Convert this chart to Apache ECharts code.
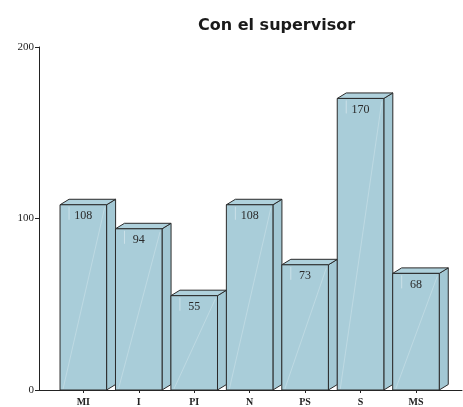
<!DOCTYPE html>
<html lang="es">
<head>
    <meta charset="utf-8">
    <title>Con el supervisor</title>
    <script src="https://cdn.jsdelivr.net/npm/echarts@6/dist/echarts.min.js"></script>
    <style>
        html, body { margin: 0; padding: 0; background: #fff; }
    </style>
</head>
<body>
<div id="main" style="width: 463px;height:407px;"></div>
<script type="text/javascript">
    var categories = ['MI', 'I', 'PI', 'N', 'PS', 'S', 'MS'];
    var values = [108, 94, 55, 108, 73, 170, 68];
    var yTicks = [0, 100, 200];

    var myChart = echarts.init(document.getElementById('main'));

    var serif = '"Liberation Serif", "DejaVu Serif", serif';
    var depthX = 9, depthY = 5.5;

    // front face + side + top, like an old 3D bar
    function renderBar(params, api) {
        var cat = api.value(0);
        var val = api.value(1);
        var top = api.coord([cat, val]);
        var base = api.coord([cat, 0]);
        var w = api.size([1, 0])[0] * 0.84;
        var x0 = top[0] - w / 2, x1 = top[0] + w / 2;
        var yt = top[1], yb = base[1];
        var edge = '#2a2a2a';
        return {
            type: 'group',
            children: [
                {
                    type: 'polygon',
                    shape: { points: [[x1, yt], [x1 + depthX, yt - depthY], [x1 + depthX, yb - depthY], [x1, yb]] },
                    style: { fill: '#a3c8d4', stroke: edge, lineWidth: 1 }
                },
                {
                    type: 'polygon',
                    shape: { points: [[x0, yt], [x0 + depthX, yt - depthY], [x1 + depthX, yt - depthY], [x1, yt]] },
                    style: { fill: '#afd1dc', stroke: edge, lineWidth: 1 }
                },
                {
                    type: 'rect',
                    shape: { x: x0, y: yt, width: w, height: yb - yt },
                    style: { fill: '#a9cdd9', stroke: edge, lineWidth: 1 }
                },
                {
                    type: 'line',
                    shape: { x1: x0 + 3, y1: yb - 1, x2: x1 - 2, y2: yt + 3 },
                    style: { stroke: 'rgba(255,255,255,0.3)', lineWidth: 0.8 }
                },
                {
                    type: 'line',
                    shape: { x1: x0 + 9, y1: yt + 2, x2: x0 + 9, y2: yt + 15 },
                    style: { stroke: 'rgba(255,255,255,0.5)', lineWidth: 0.8 }
                },
                {
                    type: 'text',
                    style: {
                        text: String(val),
                        x: top[0],
                        y: yt + 11,
                        align: 'center',
                        verticalAlign: 'middle',
                        fill: '#2a2a2a',
                        font: '12px ' + serif
                    }
                }
            ]
        };
    }

    var barData = values.map(function (v, i) { return [i, v]; });

    option = {
        animation: false,
        title: {
            text: 'Con el supervisor',
            left: 193,
            top: 13,
            textStyle: {
                fontFamily: '"DejaVu Sans", sans-serif',
                fontWeight: 'bold',
                fontSize: 16,
                color: '#1a1a1a'
            }
        },
        grid: [
            { left: 37, right: 1, top: 47, bottom: 17 },
            { left: 55.6, right: 19.3, top: 47, bottom: 17 }
        ],
        xAxis: [
            {
                type: 'value', gridIndex: 0, min: 0, max: 1,
                axisLine: { show: true, lineStyle: { color: '#222', width: 1 } },
                axisTick: { show: false }, axisLabel: { show: false }, splitLine: { show: false }
            },
            {
                type: 'category', gridIndex: 1, data: categories,
                axisLine: { show: false },
                axisTick: { show: true, alignWithLabel: true, length: 3, lineStyle: { color: '#222' } },
                axisLabel: { margin: 7, fontFamily: serif, fontSize: 10, fontWeight: 'bold', color: '#222' },
                splitLine: { show: false }
            }
        ],
        yAxis: [
            {
                type: 'value', gridIndex: 0, min: yTicks[0], max: yTicks[yTicks.length - 1], interval: 100,
                offset: -2,
                axisLine: { show: true, lineStyle: { color: '#222', width: 1 } },
                axisTick: { show: true, length: 4, lineStyle: { color: '#222' } },
                axisLabel: { margin: 5, fontFamily: serif, fontSize: 11, color: '#222' },
                splitLine: { show: false }
            },
            {
                type: 'value', gridIndex: 1, min: 0, max: 200, show: false
            }
        ],
        series: [{
            type: 'custom',
            xAxisIndex: 1,
            yAxisIndex: 1,
            renderItem: renderBar,
            data: barData
        }]
    };

    myChart.setOption(option);
</script>
</body>
</html>
